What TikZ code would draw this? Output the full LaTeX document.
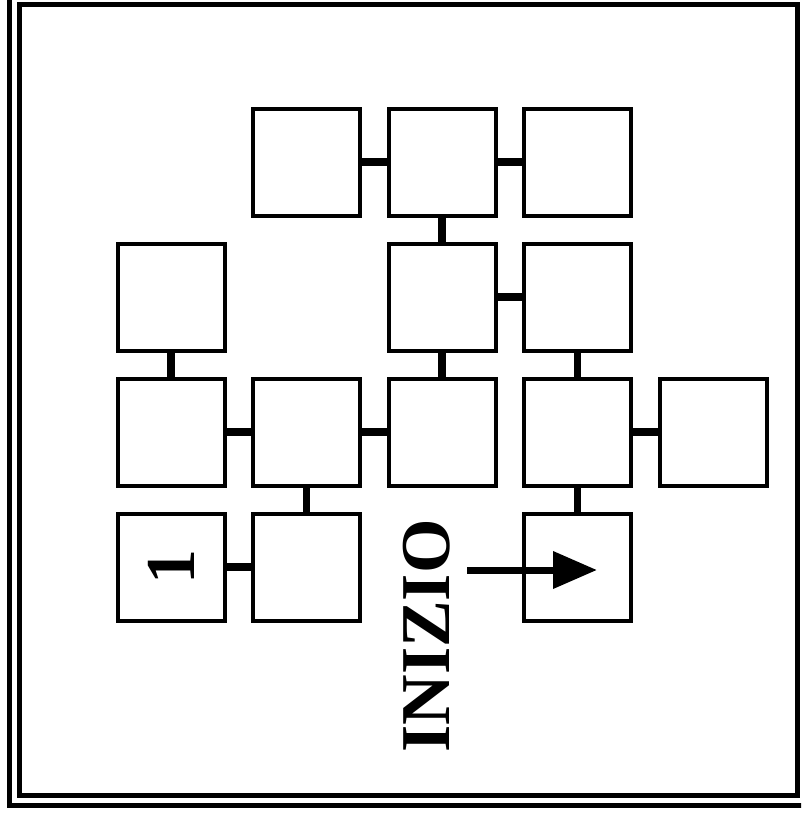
\documentclass[tikz,border=0pt]{standalone}
\usepackage{fontspec}
\setmainfont{Liberation Serif}
\usetikzlibrary{arrows.meta}
\tikzset{
  cell/.style={draw=black, line width=4pt, minimum size=107pt, inner sep=0pt, outer sep=0pt, fill=white},
  conn/.style={line width=7.5pt, draw=black},
  frame/.style={line width=5pt, draw=black},
  bigtext/.style={font=\fontsize{70}{70}\selectfont\bfseries, inner sep=0pt, rotate=90},
  startarrow/.style={line width=7pt, -{Triangle[length=44pt, width=36pt]}}
}
\begin{document}
\begin{tikzpicture}[x={(1pt,0pt)}, y={(0pt,-1pt)}]
\useasboundingbox (0,0) rectangle (801,817);
\clip (0,0) rectangle (801,817);
% frames
\draw[frame] (19.5,4) rectangle (797,795);
\draw[frame] (9.5,-20) -- (9.5,805.5) -- (830,805.5);
% cells: columns 171, 306.5, 442, 577.5, 713 ; rows 162, 297, 432, 567
\node[cell] (r1c2) at (306.5,162) {};
\node[cell] (r1c3) at (442,162) {};
\node[cell] (r1c4) at (577.5,162) {};
\node[cell] (r2c1) at (171,297) {};
\node[cell] (r2c3) at (442,297) {};
\node[cell] (r2c4) at (577.5,297) {};
\node[cell] (r3c1) at (171,432) {};
\node[cell] (r3c2) at (306.5,432) {};
\node[cell] (r3c3) at (442,432) {};
\node[cell] (r3c4) at (577.5,432) {};
\node[cell] (r3c5) at (713,432) {};
\node[cell] (r4c1) at (171,567) {};
\node[cell] (r4c2) at (306.5,567) {};
\node[cell] (r4c4) at (577.5,567) {};
% connectors
\draw[conn] (r1c2.east) -- (r1c3.west);
\draw[conn] (r1c3.east) -- (r1c4.west);
\draw[conn] (r1c3.south) -- (r2c3.north);
\draw[conn] (r2c3.east) -- (r2c4.west);
\draw[conn] (r2c1.south) -- (r3c1.north);
\draw[conn] (r2c3.south) -- (r3c3.north);
\draw[conn] (r2c4.south) -- (r3c4.north);
\draw[conn] (r3c1.east) -- (r3c2.west);
\draw[conn] (r3c2.east) -- (r3c3.west);
\draw[conn] (r3c4.east) -- (r3c5.west);
\draw[conn] (r3c2.south) -- (r4c2.north);
\draw[conn] (r3c4.south) -- (r4c4.north);
\draw[conn] (r4c1.east) -- (r4c2.west);
% texts
\node[bigtext] (one) at (171,567) {1};
\node[bigtext] (inizio) at (427,636) {INIZIO};
% start arrow
\coordinate (arrowstart) at (467,570);
\coordinate (arrowtip) at (597,570);
\draw[startarrow] (arrowstart) -- (arrowtip);
\end{tikzpicture}
\end{document}
